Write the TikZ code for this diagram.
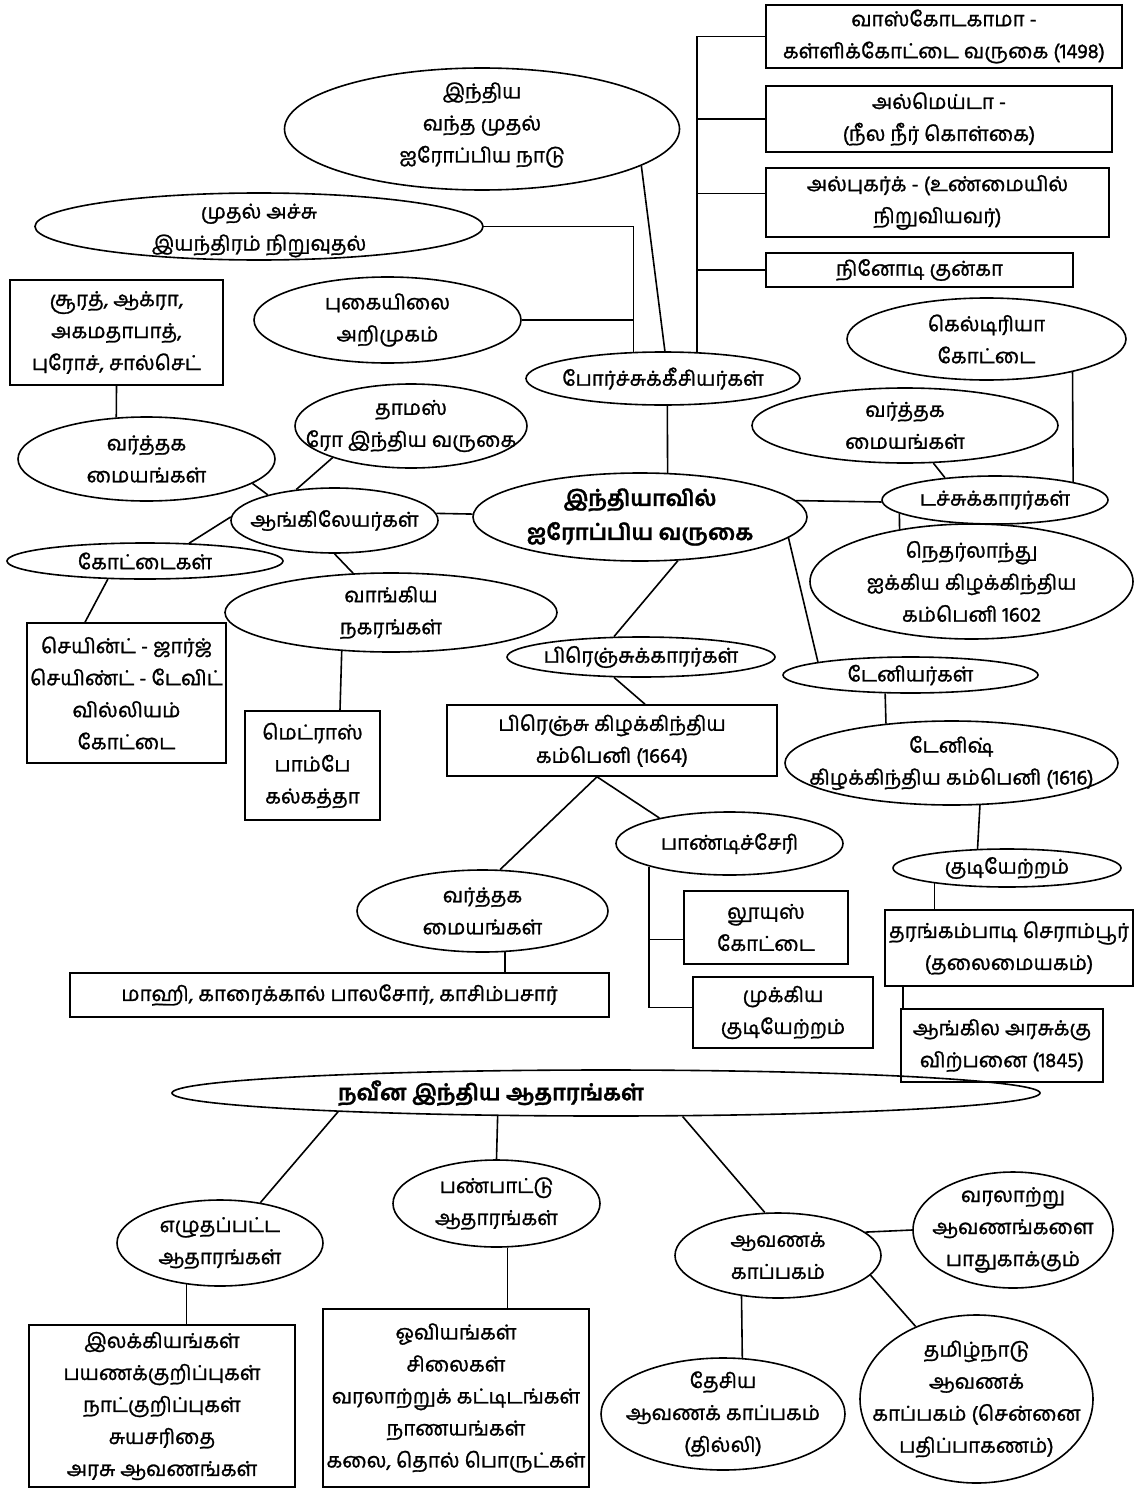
\documentclass[tikz,border=0pt]{standalone}
\usepackage{fontspec}
\setmainfont{Hind Madurai}[Script=Tamil, FakeBold=1.2]
\usetikzlibrary{shapes.geometric}

\begin{document}
\begin{tikzpicture}[x=1pt,y=-1pt,
  oval/.style={draw, ellipse, line width=1.6pt, inner sep=0pt},
  rbox/.style={draw, rectangle, line width=1.6pt, inner sep=0pt, align=center,
    font=\fontsize{20.5}{32}\selectfont},
  txt/.style={align=center, inner sep=0pt, font=\fontsize{20.5}{32}\selectfont},
  txtb/.style={align=center, inner sep=0pt, font=\fontsize{22}{34}\selectfont\bfseries},
  link/.style={line width=1.6pt}]

  \path[fill=white, use as bounding box] (0,0) rectangle (1134,1490);

  % portuguese
  \node[rbox, minimum width=356pt, minimum height=63pt] (vasco) at (944,36.5)
    {வாஸ்கோடகாமா -\\கள்ளிக்கோட்டை வருகை (1498)};
  \node[rbox, minimum width=346pt, minimum height=66pt] (almeida) at (939,119)
    {அல்மெய்டா -\\(நீல நீர் கொள்கை)};
  \node[rbox, minimum width=343pt, minimum height=69pt] (albuq) at (937.5,202.5)
    {அல்புகர்க் - (உண்மையில்\\நிறுவியவர்)};
  \node[rbox, minimum width=307pt, minimum height=34pt] (nino) at (919.5,270)
    {நினோடி குன்கா};
  \node[oval, minimum width=395pt, minimum height=122pt,
    label={[txt, yshift=4pt]center:{இந்திய\\வந்த முதல்\\ஐரோப்பிய நாடு}}] (iru) at (482,129) {};
  \node[oval, minimum width=448pt, minimum height=67pt,
    label={[txt, yshift=-4pt]center:{முதல் அச்சு\\இயந்திரம் நிறுவுதல்}}] (achu) at (259,226.5) {};
  \node[oval, minimum width=267pt, minimum height=86pt,
    label={[txt]center:{புகையிலை\\அறிமுகம்}}] (pukai) at (387.5,320) {};
  \node[oval, minimum width=274pt, minimum height=53pt,
    label={[txt]center:{போர்ச்சுக்கீசியர்கள்}}] (porch) at (663,378.5) {};

  % english
  \node[rbox, minimum width=213pt, minimum height=105pt] (surat) at (116.5,332.5)
    {சூரத், ஆக்ரா,\\அகமதாபாத்,\\புரோச், சால்செட்};
  \node[oval, minimum width=257pt, minimum height=84pt,
    label={[txt]center:{வர்த்தக\\மையங்கள்}}] (ltrade) at (146.5,459) {};
  \node[oval, minimum width=232pt, minimum height=84pt,
    label={[txt]center:{தாமஸ்\\ரோ இந்திய வருகை}}] (thomas) at (411,426) {};
  \node[oval, minimum width=207pt, minimum height=65pt,
    label={[txt]center:{ஆங்கிலேயர்கள்}}] (anglo) at (334.5,520.5) {};
  \node[oval, minimum width=276pt, minimum height=36pt,
    label={[txt]center:{கோட்டைகள்}}] (kott) at (145,561) {};
  \node[oval, minimum width=332pt, minimum height=79pt,
    label={[txt]center:{வாங்கிய\\நகரங்கள்}}] (vangiya) at (391,612.5) {};
  \node[rbox, minimum width=199pt, minimum height=140pt] (saint) at (126.5,693)
    {செயின்ட் - ஜார்ஜ்\\செயிண்ட் - டேவிட்\\வில்லியம்\\கோட்டை};
  \node[rbox, minimum width=135pt, minimum height=109pt] (cities) at (312.5,765.5)
    {மெட்ராஸ்\\பாம்பே\\கல்கத்தா};

  % centre
  \node[oval, minimum width=334pt, minimum height=88pt,
    label={[txtb]center:{இந்தியாவில்\\ஐரோப்பிய வருகை}}] (centre) at (640,517) {};

  % dutch
  \node[oval, minimum width=279pt, minimum height=82pt,
    label={[txt]center:{கெல்டிரியா\\கோட்டை}}] (kelt) at (986.5,339) {};
  \node[oval, minimum width=306pt, minimum height=75pt,
    label={[txt]center:{வர்த்தக\\மையங்கள்}}] (dtrade) at (905,425.5) {};
  \node[oval, minimum width=226pt, minimum height=48pt,
    label={[txt]center:{டச்சுக்காரர்கள்}}] (dutch) at (995,500) {};
  \node[oval, minimum width=323pt, minimum height=115pt,
    label={[txt]center:{நெதர்லாந்து\\ஐக்கிய கிழக்கிந்திய\\கம்பெனி 1602}}] (nether) at (971.5,581.5) {};

  % danish
  \node[oval, minimum width=255pt, minimum height=36pt,
    label={[txt]center:{டேனியர்கள்}}] (danish) at (910.5,675) {};
  \node[oval, minimum width=333pt, minimum height=84pt,
    label={[txt]center:{டேனிஷ்\\கிழக்கிந்திய கம்பெனி (1616)}}] (dcomp) at (951.5,763) {};
  \node[oval, minimum width=228pt, minimum height=38pt,
    label={[txt]center:{குடியேற்றம்}}] (kudi) at (1007,868) {};
  \node[rbox, minimum width=248pt, minimum height=76pt] (tbox) at (1009,948)
    {தரங்கம்பாடி செராம்பூர்\\(தலைமையகம்)};
  \node[rbox, minimum width=202pt, minimum height=73pt] (abox) at (1002,1045.5)
    {ஆங்கில அரசுக்கு\\விற்பனை (1845)};

  % french
  \node[oval, minimum width=268pt, minimum height=40pt,
    label={[txt]center:{பிரெஞ்சுக்காரர்கள்}}] (french) at (641,657) {};
  \node[rbox, minimum width=330pt, minimum height=71pt] (fbox) at (612,740.5)
    {பிரெஞ்சு கிழக்கிந்திய\\கம்பெனி (1664)};
  \node[oval, minimum width=227pt, minimum height=63pt,
    label={[txt]center:{பாண்டிச்சேரி}}] (pondi) at (729.5,843.5) {};
  \node[oval, minimum width=251pt, minimum height=82pt,
    label={[txt]center:{வர்த்தக\\மையங்கள்}}] (ftrade) at (482.5,911) {};
  \node[rbox, minimum width=164pt, minimum height=73pt] (louis) at (766,927.5)
    {லூயுஸ்\\கோட்டை};
  \node[rbox, minimum width=180pt, minimum height=71pt] (mukkiya) at (783,1012.5)
    {முக்கிய\\குடியேற்றம்};
  \node[rbox, minimum width=539pt, minimum height=44pt] (mahe) at (339.5,995)
    {மாஹி, காரைக்கால் பாலசோர், காசிம்பசார்};

  % sources
  \node[oval, minimum width=868pt, minimum height=46pt,
    label={[txtb, xshift=-115pt]center:{நவீன இந்திய ஆதாரங்கள்}}] (nav) at (606,1093) {};
  \node[oval, minimum width=206pt, minimum height=86pt,
    label={[txt]center:{எழுதப்பட்ட\\ஆதாரங்கள்}}] (eluth) at (220,1243) {};
  \node[oval, minimum width=207pt, minimum height=87pt,
    label={[txt]center:{பண்பாட்டு\\ஆதாரங்கள்}}] (panp) at (496.5,1203.5) {};
  \node[oval, minimum width=206pt, minimum height=85pt,
    label={[txt]center:{ஆவணக்\\காப்பகம்}}] (avana) at (778,1255.5) {};
  \node[oval, minimum width=200pt, minimum height=116pt,
    label={[txt]center:{வரலாற்று\\ஆவணங்களை\\பாதுகாக்கும்}}] (varalaru) at (1013,1230) {};
  \node[oval, minimum width=233pt, minimum height=168pt,
    label={[txt]center:{தமிழ்நாடு\\ஆவணக்\\காப்பகம் (சென்னை\\பதிப்பாகணம்)}}] (tamil) at (976.5,1399) {};
  \node[oval, minimum width=244pt, minimum height=112pt,
    label={[txt]center:{தேசிய\\ஆவணக் காப்பகம்\\(தில்லி)}}] (thesiya) at (723,1414) {};
  \node[rbox, minimum width=266pt, minimum height=162pt] (wbox) at (162,1406)
    {இலக்கியங்கள்\\பயணக்குறிப்புகள்\\நாட்குறிப்புகள்\\சுயசரிதை\\அரசு ஆவணங்கள்};
  \node[rbox, minimum width=266pt, minimum height=178pt] (cult) at (456,1398)
    {ஓவியங்கள்\\சிலைகள்\\வரலாற்றுக் கட்டிடங்கள்\\நாணயங்கள்\\கலை, தொல் பொருட்கள்};

  % connectors of the portuguese
  \coordinate (albin) at ([yshift=9pt]albuq.west);
  \draw[link] (porch.38) -- (porch.38 |- vasco.west) -- (vasco.west);
  \draw[link] (porch.38 |- almeida.west) -- (almeida.west);
  \draw[link] (porch.38 |- albin) -- (albin);
  \draw[link] (porch.38 |- nino.west) -- (nino.west);
  \draw[link] (iru.-13) -- (porch.86);
  \draw[link] (achu.east) -| (porch.138);
  \draw[link] (pukai.east) -- (pukai.east -| porch.138);
  \draw[link] (porch.-81) -- (centre.58);

  % connectors of the english
  \draw[link] (surat.south) -- (ltrade.126);
  \draw[link] (ltrade.-13) -- (anglo.159);
  \draw[link] (thomas.202) -- (anglo.141);
  \draw[link] (anglo.178) -- (kott.22);
  \draw[link] (anglo.south) -- (vangiya.134);
  \draw[link] (anglo.4) -- (centre.179);
  \draw[link] (kott.-154) -- ([xshift=-41.5pt]saint.north);
  \draw[link] (vangiya.-142) -- ([xshift=27.5pt]cities.north);

  % connectors of the dutch and the danes
  \draw[link] (kelt.-21) -- (dutch.13);
  \draw[link] (dtrade.-53) -- (dutch.156);
  \draw[link] (centre.6) -- (dutch.181);
  \draw[link] (dutch.188) -- (nether.144);
  \draw[link] (centre.-8) -- (danish.172);
  \draw[link] (danish.-144) -- (dcomp.149);
  \draw[link] (dcomp.-56) -- (kudi.147);
  \draw[link] (kudi.-168) -- (kudi.-168 |- tbox.north);
  \draw[link] ([xshift=3pt]abox.north west) -- ([xshift=3pt]abox.north west |- tbox.south);

  % connectors of the french
  \coordinate (louisin) at ([yshift=-12pt]louis.west);
  \coordinate (mukin) at ([yshift=5pt]mukkiya.west);
  \draw[link] (centre.-49) -- (french.143);
  \draw[link] (french.-143) -- ([xshift=33pt]fbox.north);
  \draw[link] ([xshift=-15pt]fbox.south) -- (ftrade.67);
  \draw[link] ([xshift=-15pt]fbox.south) -- (pondi.160);
  \draw[link] (pondi.-164) |- (mukin);
  \draw[link] (pondi.-164 |- louisin) -- (louisin);
  \draw[link] (ftrade.-61) -- (ftrade.-61 |- mahe.north);

  % connectors of the sources
  \draw[link] (nav.184) -- (eluth.45);
  \draw[link] (nav.192) -- (panp.north);
  \draw[link] (nav.-17) -- (avana.107);
  \draw[link] (avana.15) -- (varalaru.west);
  \draw[link] (avana.-12) -- (tamil.130);
  \draw[link] (avana.-132) -- (thesiya.71);
  \draw[link] (eluth.-129) -- (eluth.-129 |- wbox.north);
  \draw[link] (panp.-76) -- (panp.-76 |- cult.north);

\end{tikzpicture}
\end{document}
